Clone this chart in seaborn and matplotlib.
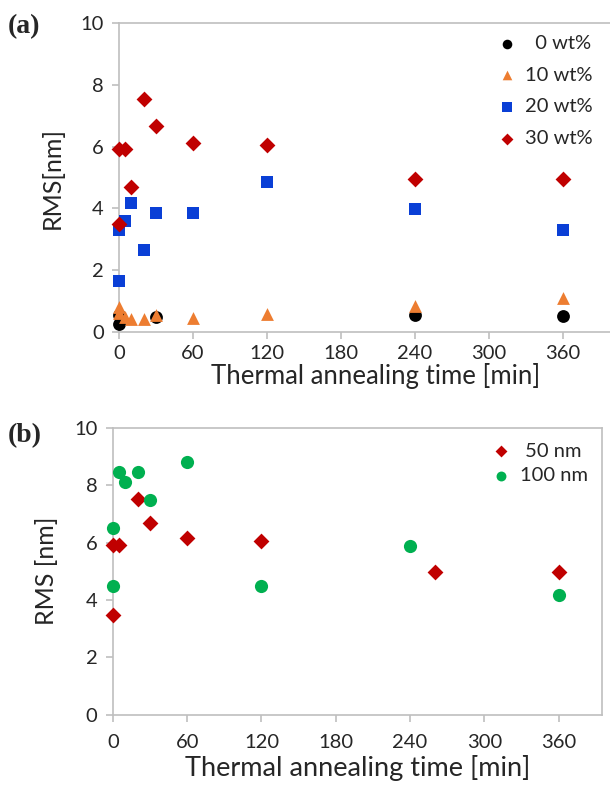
import numpy as np
import pandas as pd
import matplotlib
matplotlib.use("Agg")
import matplotlib.pyplot as plt
import seaborn as sns

# ---- data: RMS roughness vs thermal annealing time ----
# panel (a): filler content series
t_0wt = [0, 0, 30, 240, 360]
rms_0wt = [0.28, 0.55, 0.48, 0.57, 0.52]

t_10wt = [0, 0, 5, 10, 20, 30, 60, 120, 240, 360]
rms_10wt = [0.82, 0.62, 0.50, 0.44, 0.42, 0.55, 0.47, 0.60, 0.84, 1.10]

t_20wt = [0, 0, 5, 10, 20, 30, 60, 120, 240, 360]
rms_20wt = [1.65, 3.30, 3.60, 4.17, 2.65, 3.85, 3.85, 4.87, 3.97, 3.30]

t_30wt = [0, 0, 5, 10, 20, 30, 60, 120, 240, 360]
rms_30wt = [3.50, 5.92, 5.92, 4.70, 7.55, 6.65, 6.13, 6.05, 4.95, 4.95]

# panel (b): film thickness series
t_50nm = [0, 0, 5, 20, 30, 60, 120, 260, 360]
rms_50nm = [3.48, 5.92, 5.92, 7.53, 6.68, 6.16, 6.06, 4.96, 4.96]

t_100nm = [0, 0, 5, 10, 20, 30, 60, 120, 240, 360]
rms_100nm = [4.49, 6.50, 8.44, 8.12, 8.44, 7.47, 8.80, 4.47, 5.89, 4.16]

labels_a = ["  0 wt%", "10 wt%", "20 wt%", "30 wt%"]
labels_b = [" 50 nm", "100 nm"]
x_ticks = [0, 60, 120, 180, 240, 300, 360]
y_ticks = [0, 2, 4, 6, 8, 10]

df_a = pd.concat([
    pd.DataFrame({"time": t, "rms": r, "series": lab})
    for t, r, lab in zip([t_0wt, t_10wt, t_20wt, t_30wt],
                         [rms_0wt, rms_10wt, rms_20wt, rms_30wt], labels_a)
], ignore_index=True)

df_b = pd.concat([
    pd.DataFrame({"time": t, "rms": r, "series": lab})
    for t, r, lab in zip([t_50nm, t_100nm], [rms_50nm, rms_100nm], labels_b)
], ignore_index=True)

# ---- styling ----
sns.set_theme(style="white")
plt.rcParams["font.family"] = ["Lato", "DejaVu Sans"]

BLACK, ORANGE, BLUE, RED, GREEN = "#000000", "#ED7D31", "#0A3FD6", "#C00000", "#00B050"
AXIS_GREY = "#BFBFBF"
TEXT = "#262626"

pal_a = dict(zip(labels_a, [BLACK, ORANGE, BLUE, RED]))
mk_a = dict(zip(labels_a, ["o", "^", "s", "D"]))
size_a = dict(zip(labels_a, [85, 85, 80, 65]))
pal_b = dict(zip(labels_b, [RED, GREEN]))
mk_b = dict(zip(labels_b, ["D", "o"]))
size_b = dict(zip(labels_b, [65, 90]))

fig = plt.figure(figsize=(6.10, 7.89), dpi=100)
ax_a = fig.add_axes([0.195, 0.579, 0.805, 0.392])
ax_b = fig.add_axes([0.185, 0.094, 0.802, 0.364])


def draw(ax, df, labels, pal, mk, sizes):
    for lab in labels:
        sub = df[df["series"] == lab]
        sns.scatterplot(data=sub, x="time", y="rms", ax=ax, color=pal[lab],
                        marker=mk[lab], s=sizes[lab], linewidth=0,
                        label=lab, clip_on=False, zorder=3)


def style(ax, xmax, box, xpad):
    ax.set_xlim(0, xmax)
    ax.set_ylim(0, 10)
    ax.set_xticks(x_ticks)
    ax.set_yticks(y_ticks)
    for side in ["left", "bottom", "top", "right"]:
        ax.spines[side].set_color(AXIS_GREY)
        ax.spines[side].set_linewidth(1.2)
    ax.spines["right"].set_visible(box)
    ax.tick_params(axis="both", which="major", direction="out", length=5,
                   width=1.2, color=AXIS_GREY, labelsize=14.5, labelcolor=TEXT,
                   bottom=True, left=True, pad=6)
    ax.tick_params(axis="x", pad=xpad)
    ax.grid(False)


draw(ax_a, df_a, labels_a, pal_a, mk_a, size_a)
style(ax_a, 398, box=False, xpad=4)
ax_a.set_xlabel("Thermal annealing time [min]", fontsize=18.5, color=TEXT)
ax_a.xaxis.set_label_coords(0.523, -0.1)
ax_a.set_ylabel("RMS[nm]", fontsize=18, color=TEXT, labelpad=12)
leg_a = ax_a.legend(loc="upper right", bbox_to_anchor=(0.99, 1.0), frameon=False,
                    fontsize=14.5, handletextpad=0.3, handlelength=1.2,
                    labelspacing=0.72, markerscale=0.75, borderaxespad=0.2)
for txt in leg_a.get_texts():
    txt.set_color(TEXT)

draw(ax_b, df_b, labels_b, pal_b, mk_b, size_b)
style(ax_b, 395, box=True, xpad=9)
ax_b.set_xlabel("Thermal annealing time [min]", fontsize=19.5, color=TEXT, labelpad=3)
ax_b.set_ylabel("RMS [nm]", fontsize=18, color=TEXT, labelpad=12)
leg_b = ax_b.legend(loc="upper right", bbox_to_anchor=(0.995, 0.99), frameon=False,
                    fontsize=14.5, handletextpad=0.3, handlelength=1.2,
                    labelspacing=0.35, markerscale=0.75, borderaxespad=0.2)
for txt in leg_b.get_texts():
    txt.set_color(TEXT)

fig.text(0.012, 0.966, "(a)", fontsize=20, fontweight="bold",
         family="Liberation Serif", va="center", ha="left")
fig.text(0.012, 0.448, "(b)", fontsize=20, fontweight="bold",
         family="Liberation Serif", va="center", ha="left")

fig.savefig("out.png", dpi=100)
